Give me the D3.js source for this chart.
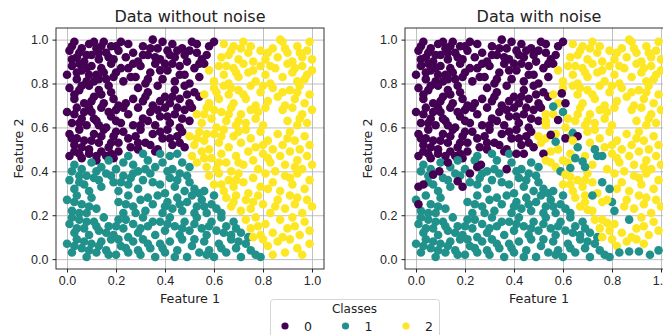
<!DOCTYPE html>
<html>
<head>
<meta charset="utf-8">
<script src="https://cdn.jsdelivr.net/npm/d3@7/dist/d3.min.js"></script>
<style>
	body { margin: 0; background: #fff; }
	svg { font-family: "DejaVu Sans", sans-serif; }
	.grid line { stroke: #b0b0b0; stroke-width: 0.8; }
	.grid path { display: none; }
	.axis path { display: none; }
	.axis line { stroke: #222; }
	.axis text { fill: #262626; font-size: 12.5px; }
</style>
</head>
<body>
<svg width="663" height="335"></svg>
<script>
// class 0 (upper left)
var class0 = [
	[0.01,0.95],[0.03,0.99],[0.04,0.92],[0.06,0.96],[0.07,0.90],[0.09,0.98],[0.10,0.93],[0.12,0.96],[0.13,0.91],[0.15,0.99],
	[0.16,0.94],[0.18,0.97],[0.19,0.91],[0.21,0.95],[0.24,0.92],[0.25,0.98],[0.27,0.94],[0.29,0.90],[0.31,0.97],[0.33,0.93],
	[0.35,1.00],[0.37,0.96],[0.38,0.91],[0.41,0.95],[0.43,0.98],[0.44,0.92],[0.47,0.96],[0.49,0.90],[0.51,0.99],[0.53,0.94],
	[0.55,0.91],[0.58,0.97],[0.60,0.99],[0.02,0.91],[0.11,0.99],[0.22,0.99],[0.39,0.99],[0.57,0.93],
	[0.00,0.84],[0.02,0.88],[0.04,0.82],[0.06,0.86],[0.08,0.81],[0.10,0.88],[0.12,0.84],[0.14,0.87],[0.16,0.82],[0.18,0.89],
	[0.20,0.85],[0.23,0.81],[0.25,0.87],[0.28,0.83],[0.30,0.88],[0.32,0.80],[0.34,0.85],[0.36,0.89],[0.39,0.82],[0.41,0.86],
	[0.44,0.81],[0.46,0.88],[0.48,0.84],[0.50,0.80],[0.52,0.87],[0.54,0.83],[0.56,0.89],[0.11,0.81],[0.27,0.89],[0.43,0.89],
	[0.01,0.78],[0.03,0.73],[0.05,0.77],[0.07,0.71],[0.09,0.79],[0.11,0.74],[0.13,0.77],[0.15,0.71],[0.17,0.79],[0.19,0.73],
	[0.21,0.70],[0.29,0.78],[0.31,0.72],[0.33,0.76],[0.35,0.70],[0.37,0.79],[0.40,0.74],[0.42,0.71],[0.44,0.77],[0.46,0.73],
	[0.48,0.79],[0.50,0.71],[0.52,0.76],[0.54,0.74],[0.24,0.71],[0.27,0.73],
	[0.00,0.67],[0.02,0.62],[0.04,0.69],[0.06,0.64],[0.08,0.61],[0.10,0.67],[0.12,0.63],[0.14,0.69],[0.16,0.60],[0.18,0.65],
	[0.20,0.68],[0.22,0.62],[0.25,0.66],[0.27,0.61],[0.29,0.69],[0.31,0.64],[0.34,0.67],[0.36,0.61],[0.38,0.65],[0.40,0.69],
	[0.42,0.62],[0.44,0.66],[0.46,0.60],[0.48,0.68],[0.50,0.63],[0.51,0.69],[0.23,0.69],[0.09,0.69],
	[0.01,0.57],[0.03,0.52],[0.05,0.59],[0.07,0.54],[0.09,0.50],[0.11,0.57],[0.13,0.53],[0.15,0.59],[0.17,0.51],[0.19,0.56],
	[0.21,0.53],[0.23,0.58],[0.26,0.51],[0.28,0.56],[0.30,0.59],[0.32,0.53],[0.35,0.57],[0.37,0.50],[0.39,0.55],[0.41,0.59],
	[0.43,0.52],[0.45,0.56],[0.47,0.58],[0.48,0.51],[0.34,0.52],[0.02,0.55],
	[0.01,0.47],[0.03,0.49],[0.06,0.46],[0.09,0.48],[0.12,0.45],[0.14,0.49],[0.16,0.47],[0.19,0.46],[0.21,0.49],[0.29,0.50],[0.36,0.49],
	[0.02,0.97],[0.05,0.94],[0.08,0.93],[0.05,0.89],[0.08,0.87],[0.13,0.94],[0.14,0.97],[0.17,0.92],[0.20,0.97],[0.04,0.85],
	[0.09,0.84],[0.13,0.82],[0.15,0.85],[0.19,0.83],[0.06,0.79],[0.31,0.93],[0.34,0.96],[0.36,0.92],[0.40,0.89],[0.42,0.93],
	[0.45,0.95],[0.48,0.93],[0.50,0.95],[0.53,0.98],[0.54,0.89],[0.38,0.86],[0.33,0.82],[0.22,0.87],[0.26,0.83],[0.46,0.84],
	[0.03,0.66],[0.05,0.62],[0.07,0.67],[0.11,0.64],[0.13,0.61],[0.17,0.67],[0.20,0.63],[0.30,0.61],[0.33,0.63],[0.37,0.68],
	[0.41,0.65],[0.45,0.69],[0.47,0.64],[0.04,0.55],[0.06,0.51],[0.10,0.54],[0.14,0.56],[0.18,0.53],[0.20,0.58],[0.25,0.55],
	[0.29,0.53],[0.38,0.58],[0.42,0.55],[0.46,0.53],[0.03,0.75],[0.10,0.72],[0.14,0.75],[0.18,0.76],[0.32,0.74],[0.38,0.72],
	[0.43,0.74],[0.49,0.75],[0.12,0.47],[0.18,0.48],[0.05,0.48]
];

// class 1 (lower left)
var class1 = [
	[0.25,0.47],[0.31,0.48],[0.38,0.48],[0.42,0.47],[0.45,0.48],[0.03,0.43],[0.06,0.41],[0.10,0.44],[0.14,0.42],[0.17,0.45],
	[0.20,0.41],[0.23,0.44],[0.27,0.43],[0.29,0.40],[0.33,0.45],[0.36,0.42],[0.39,0.44],[0.43,0.41],[0.47,0.44],[0.50,0.42],[0.12,0.40],
	[0.01,0.36],[0.03,0.32],[0.05,0.38],[0.07,0.34],[0.09,0.31],[0.11,0.37],[0.14,0.33],[0.16,0.39],[0.19,0.35],[0.21,0.31],
	[0.23,0.38],[0.25,0.34],[0.27,0.39],[0.29,0.32],[0.31,0.36],[0.34,0.39],[0.38,0.34],[0.40,0.30],[0.42,0.37],[0.44,0.33],
	[0.46,0.39],[0.48,0.31],[0.50,0.35],[0.52,0.32],[0.54,0.30],[0.56,0.31],
	[0.00,0.27],[0.02,0.22],[0.04,0.29],[0.06,0.25],[0.08,0.21],[0.10,0.28],[0.12,0.23],[0.21,0.26],[0.23,0.21],[0.25,0.29],
	[0.27,0.24],[0.30,0.27],[0.32,0.22],[0.35,0.25],[0.37,0.29],[0.39,0.21],[0.41,0.26],[0.43,0.23],[0.45,0.28],[0.47,0.22],
	[0.49,0.26],[0.51,0.29],[0.53,0.24],[0.55,0.27],[0.57,0.21],[0.59,0.25],[0.61,0.23],[0.63,0.21],[0.60,0.29],
	[0.01,0.16],[0.03,0.12],[0.05,0.18],[0.07,0.14],[0.09,0.11],[0.11,0.17],[0.13,0.13],[0.15,0.19],[0.17,0.15],[0.19,0.11],
	[0.21,0.18],[0.23,0.14],[0.25,0.10],[0.27,0.16],[0.29,0.12],[0.31,0.19],[0.33,0.15],[0.36,0.11],[0.38,0.17],[0.40,0.13],
	[0.42,0.19],[0.44,0.15],[0.46,0.11],[0.48,0.17],[0.50,0.13],[0.53,0.19],[0.55,0.14],[0.57,0.11],[0.59,0.17],[0.61,0.13],
	[0.63,0.19],[0.65,0.15],[0.67,0.11],[0.69,0.14],[0.71,0.12],
	[0.00,0.07],[0.02,0.03],[0.04,0.09],[0.06,0.05],[0.08,0.01],[0.10,0.07],[0.12,0.03],[0.14,0.08],[0.16,0.04],[0.18,0.09],
	[0.20,0.02],[0.22,0.06],[0.25,0.03],[0.27,0.08],[0.29,0.04],[0.31,0.09],[0.34,0.05],[0.36,0.01],[0.38,0.07],[0.40,0.03],
	[0.42,0.08],[0.45,0.04],[0.47,0.09],[0.49,0.01],[0.51,0.06],[0.54,0.03],[0.56,0.08],[0.58,0.04],[0.60,0.01],[0.62,0.07],
	[0.65,0.03],[0.67,0.09],[0.69,0.05],[0.71,0.01],[0.73,0.07],[0.75,0.04],[0.77,0.02],[0.79,0.01],
	[0.02,0.40],[0.05,0.35],[0.08,0.38],[0.13,0.36],[0.18,0.38],[0.22,0.35],[0.26,0.37],[0.32,0.41],[0.35,0.35],[0.41,0.40],
	[0.45,0.36],[0.49,0.38],[0.03,0.26],[0.05,0.21],[0.09,0.24],[0.24,0.25],[0.28,0.21],[0.33,0.28],[0.40,0.24],[0.46,0.25],
	[0.52,0.21],[0.56,0.24],[0.02,0.19],[0.04,0.14],[0.08,0.17],[0.12,0.15],[0.16,0.12],[0.20,0.15],[0.24,0.18],[0.30,0.14],
	[0.35,0.17],[0.41,0.16],[0.47,0.14],[0.52,0.16],[0.58,0.15],[0.64,0.12],[0.68,0.17],[0.03,0.06],[0.07,0.08],[0.09,0.04],
	[0.13,0.06],[0.17,0.02],[0.21,0.09],[0.24,0.05],[0.30,0.02],[0.33,0.07],[0.39,0.05],[0.44,0.01],[0.52,0.09],[0.57,0.02],
	[0.63,0.05],[0.70,0.08],[0.74,0.10]
];

// class 2 (right)
var class2 = [
	[0.64,0.98],[0.66,0.93],[0.68,0.97],[0.70,0.91],[0.72,0.99],[0.74,0.94],[0.76,0.90],[0.79,0.95],[0.81,0.91],[0.84,0.96],
	[0.86,0.92],[0.88,0.99],[0.90,0.94],[0.92,0.90],[0.94,0.97],[0.96,0.92],[0.98,0.95],[1.00,0.91],[0.63,0.92],[0.87,1.00],[0.99,0.99],
	[0.58,0.86],[0.60,0.81],[0.62,0.88],[0.64,0.84],[0.66,0.80],[0.68,0.87],[0.70,0.83],[0.72,0.89],[0.74,0.85],[0.77,0.81],
	[0.79,0.88],[0.81,0.84],[0.83,0.80],[0.85,0.87],[0.88,0.83],[0.90,0.89],[0.92,0.85],[0.94,0.81],[0.96,0.88],[0.98,0.84],[1.00,0.86],
	[0.56,0.75],[0.58,0.71],[0.60,0.78],[0.62,0.73],[0.64,0.79],[0.66,0.75],[0.68,0.71],[0.70,0.77],[0.73,0.73],[0.75,0.79],
	[0.77,0.70],[0.79,0.76],[0.82,0.72],[0.84,0.78],[0.86,0.74],[0.89,0.70],[0.91,0.77],[0.93,0.73],[0.95,0.79],[0.97,0.71],[0.99,0.75],
	[0.53,0.66],[0.55,0.62],[0.57,0.69],[0.59,0.64],[0.61,0.60],[0.63,0.67],[0.65,0.63],[0.67,0.69],[0.69,0.61],[0.71,0.66],
	[0.73,0.62],[0.75,0.68],[0.77,0.64],[0.80,0.61],[0.88,0.68],[0.90,0.63],[0.92,0.69],[0.94,0.61],[0.96,0.66],[0.98,0.62],[1.00,0.68],[0.81,0.69],
	[0.50,0.56],[0.52,0.52],[0.54,0.58],[0.56,0.54],[0.58,0.50],[0.60,0.57],[0.62,0.53],[0.64,0.59],[0.66,0.51],[0.68,0.56],
	[0.71,0.53],[0.73,0.59],[0.75,0.55],[0.77,0.51],[0.79,0.58],[0.82,0.54],[0.84,0.50],[0.86,0.57],[0.88,0.52],[0.91,0.58],
	[0.93,0.54],[0.95,0.50],[0.97,0.56],[0.99,0.52],
	[0.51,0.47],[0.53,0.44],[0.55,0.49],[0.57,0.42],[0.59,0.46],[0.61,0.41],[0.63,0.48],[0.65,0.44],[0.67,0.40],[0.69,0.47],
	[0.72,0.43],[0.74,0.49],[0.76,0.45],[0.78,0.41],[0.80,0.48],[0.83,0.44],[0.85,0.40],[0.87,0.47],[0.89,0.43],[0.91,0.49],
	[0.94,0.45],[0.96,0.41],[0.98,0.47],[1.00,0.43],
	[0.58,0.38],[0.60,0.34],[0.62,0.39],[0.64,0.31],[0.66,0.36],[0.68,0.33],[0.70,0.39],[0.72,0.35],[0.74,0.30],[0.76,0.37],
	[0.79,0.33],[0.81,0.39],[0.84,0.35],[0.87,0.31],[0.89,0.38],[0.92,0.34],[0.94,0.39],[0.97,0.32],[0.99,0.36],
	[0.65,0.28],[0.67,0.24],[0.69,0.29],[0.71,0.22],[0.73,0.27],[0.75,0.23],[0.78,0.29],[0.80,0.25],[0.83,0.21],[0.86,0.27],
	[0.89,0.23],[0.91,0.29],[0.93,0.25],[0.96,0.21],[0.98,0.27],[1.00,0.24],
	[0.73,0.18],[0.75,0.14],[0.77,0.19],[0.79,0.11],[0.81,0.16],[0.84,0.12],[0.87,0.18],[0.90,0.14],[0.92,0.19],[0.95,0.11],
	[0.97,0.17],[0.99,0.13],[0.76,0.10],
	[0.82,0.06],[0.84,0.02],[0.86,0.08],[0.89,0.03],[0.91,0.09],[0.94,0.05],[0.96,0.02],[0.99,0.07],[0.80,0.09],
	[0.67,0.95],[0.71,0.96],[0.75,0.97],[0.82,0.94],[0.89,0.96],[0.95,0.94],[0.65,0.88],[0.69,0.85],[0.76,0.86],[0.83,0.88],
	[0.93,0.87],[0.97,0.82],[0.61,0.76],[0.67,0.78],[0.72,0.75],[0.80,0.79],[0.88,0.76],[0.94,0.76],[0.56,0.66],[0.60,0.68],
	[0.66,0.66],[0.70,0.63],[0.78,0.67],[0.95,0.64],[0.53,0.55],[0.57,0.57],[0.63,0.56],[0.70,0.58],[0.80,0.52],[0.90,0.55],
	[0.56,0.46],[0.62,0.44],[0.70,0.44],[0.82,0.46],[0.93,0.42],[0.63,0.34],[0.69,0.36],[0.82,0.32],[0.91,0.37],[0.68,0.26],
	[0.76,0.26],[0.94,0.28],[0.85,0.24],[0.78,0.15],[0.93,0.15],[0.88,0.10]
];

// points whose class differs in the noisy panel: [x, y, class]
var noisePoints = [
	[0.56,0.695,1],[0.60,0.67,1],[0.57,0.535,1],[0.64,0.575,1],[0.66,0.51,1],[0.65,0.46,1],[0.73,0.50,1],[0.74,0.47,1],
	[0.68,0.445,1],[0.69,0.42,1],[0.63,0.415,1],[0.59,0.40,1],[0.76,0.35,1],[0.79,0.32,1],[0.80,0.26,1],[0.81,0.22,1],
	[0.87,0.18,1],[0.83,0.03,1],[0.87,0.035,1],[0.91,0.035,1],[0.955,0.02,1],[0.99,0.04,1],[0.72,0.29,1],[0.76,0.47,1],
	[0.39,0.44,1],[0.24,0.45,1],
	[0.61,0.71,0],[0.595,0.755,0],[0.58,0.634,0],[0.55,0.566,0],[0.61,0.55,0],[0.66,0.56,0],[0.52,0.48,0],[0.17,0.355,0],
	[0.19,0.33,0],[0.095,0.40,0],[0.07,0.385,0],[0.03,0.34,0],[0.01,0.33,0],[0.01,0.25,0],[0.22,0.39,0],[0.265,0.43,0],
	[0.41,0.48,0],[0.44,0.48,0],[0.13,0.44,0],[0.25,0.42,0],[0.37,0.41,0],
	[0.53,0.63,2],[0.53,0.61,2],[0.51,0.53,2],[0.53,0.45,2],[0.60,0.45,2],[0.64,0.54,2],[0.62,0.64,2],[0.63,0.375,2],
	[0.61,0.385,2],[0.70,0.225,2],[0.72,0.22,2],[0.76,0.18,2],[0.78,0.165,2],[0.79,0.13,2],[0.69,0.26,2],[0.78,0.27,2],
	[0.90,0.09,2],[0.93,0.07,2],[0.55,0.44,2]
];

var tickValues = [0, 0.2, 0.4, 0.6, 0.8, 1.0];
var classNames = ["0", "1", "2"];
var classColors = ["#440154", "#21918c", "#fde725"];
var panelTitles = ["Data without noise", "Data with noise"];

var svg = d3.select("svg");
var plotW = 268, plotTop = 28, plotBottom = 269;

var basePoints = class0.map(function(p) { return [p[0], p[1], 0]; })
	.concat(class1.map(function(p) { return [p[0], p[1], 1]; }))
	.concat(class2.map(function(p) { return [p[0], p[1], 2]; }));

// in the noisy panel, the point nearest each noise point takes its new class
var replaced = {};
noisePoints.forEach(function(n) {
	var best = -1, bestD = 0.035;
	basePoints.forEach(function(p, i) {
		var d = Math.hypot(p[0] - n[0], p[1] - n[1]);
		if (d < bestD && !replaced[i]) { bestD = d; best = i; }
	});
	if (best >= 0) replaced[best] = true;
});
var noisyPoints = basePoints.filter(function(p, i) { return !replaced[i]; }).concat(noisePoints);

function drawPanel(left, title, points) {
	var x = d3.scaleLinear().domain([-0.045, 1.049]).range([left, left + plotW]);
	var y = d3.scaleLinear().domain([-0.045, 1.053]).range([plotBottom, plotTop]);
	var g = svg.append("g");

	g.append("g")
		.attr("class", "grid")
		.attr("transform", "translate(0," + plotBottom + ")")
		.call(d3.axisBottom(x).tickValues(tickValues).tickSize(-(plotBottom - plotTop)).tickFormat(""));
	g.append("g")
		.attr("class", "grid")
		.attr("transform", "translate(" + left + ",0)")
		.call(d3.axisLeft(y).tickValues(tickValues).tickSize(-plotW).tickFormat(""));

	g.append("g").selectAll("circle")
		.data(points)
		.enter().append("circle")
		.attr("cx", function(d) { return x(d[0]); })
		.attr("cy", function(d) { return y(d[1]); })
		.attr("r", 4.3)
		.attr("fill", function(d) { return classColors[d[2]]; });

	g.append("rect")
		.attr("x", left).attr("y", plotTop)
		.attr("width", plotW).attr("height", plotBottom - plotTop)
		.attr("fill", "none").attr("stroke", "#333").attr("stroke-width", 1);

	g.append("g")
		.attr("class", "axis")
		.attr("transform", "translate(0," + plotBottom + ")")
		.call(d3.axisBottom(x).tickValues(tickValues).tickSize(3.5).tickPadding(4).tickFormat(d3.format(".1f")));
	g.append("g")
		.attr("class", "axis")
		.attr("transform", "translate(" + left + ",0)")
		.call(d3.axisLeft(y).tickValues(tickValues).tickSize(3.5).tickPadding(4).tickFormat(d3.format(".1f")));

	g.append("text")
		.attr("x", left + plotW / 2).attr("y", 22)
		.attr("text-anchor", "middle")
		.attr("fill", "#222")
		.style("font-size", "16px")
		.text(title);
	g.append("text")
		.attr("x", left + plotW / 2).attr("y", 303)
		.attr("text-anchor", "middle")
		.attr("fill", "#222")
		.style("font-size", "12.7px")
		.text("Feature 1");
	g.append("text")
		.attr("transform", "translate(" + (left - 33) + "," + ((plotTop + plotBottom) / 2) + ") rotate(-90)")
		.attr("text-anchor", "middle")
		.attr("fill", "#222")
		.style("font-size", "12.7px")
		.text("Feature 2");
}

drawPanel(56, panelTitles[0], basePoints);
drawPanel(405, panelTitles[1], noisyPoints);

// legend
var legend = svg.append("g");
legend.append("rect")
	.attr("x", 270.5).attr("y", 299.5)
	.attr("width", 169).attr("height", 50)
	.attr("rx", 3)
	.attr("fill", "#fff").attr("fill-opacity", 0.8)
	.attr("stroke", "#d6d6d6");
legend.append("text")
	.attr("x", 354.5).attr("y", 313)
	.attr("text-anchor", "middle")
	.attr("fill", "#222")
	.style("font-size", "12px")
	.text("Classes");
var entry = legend.selectAll(".entry")
	.data(classNames)
	.enter().append("g")
	.attr("class", "entry")
	.attr("transform", function(d, i) { return "translate(" + (285 + i * 60.5) + ",326)"; });
entry.append("circle")
	.attr("r", 3.6)
	.attr("fill", function(d, i) { return classColors[i]; });
entry.append("text")
	.attr("x", 19).attr("y", 4.5)
	.attr("fill", "#222")
	.style("font-size", "12.5px")
	.text(function(d) { return d; });
</script>
</body>
</html>
